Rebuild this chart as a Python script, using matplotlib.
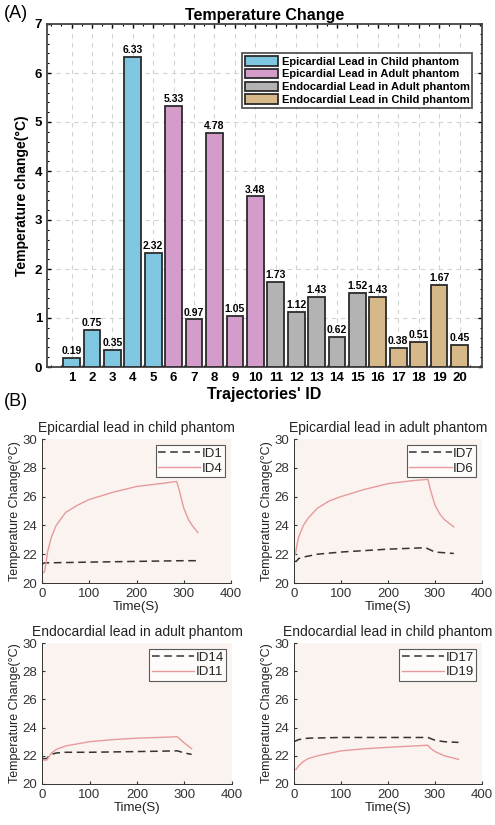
import matplotlib.pyplot as plt
import numpy as np

plt.rcParams['font.family'] = ['Liberation Sans', 'DejaVu Sans']

# ---- (A) bar data
traj_id = list(range(1, 21))
temp_rise = [0.19, 0.75, 0.35, 6.33, 2.32, 5.33, 0.97, 4.78, 1.05, 3.48,
             1.73, 1.12, 1.43, 0.62, 1.52, 1.43, 0.38, 0.51, 1.67, 0.45]
groups = ['Epicardial Lead in Child phantom', 'Epicardial Lead in Adult phantom',
          'Endocardial Lead in Adult phantom', 'Endocardial Lead in Child phantom']
group_of = [0]*5 + [1]*5 + [2]*5 + [3]*5
group_col = ['#7fc6e0', '#d49ccb', '#b3b3b3', '#d6b889']

# ---- (B) time curves
t_id4 = [0, 5, 8, 12, 20, 30, 50, 75, 100, 150, 200, 250, 285, 290, 300, 310, 320, 330]
v_id4 = [20.7, 20.75, 21.3, 22.2, 23.2, 24.0, 24.9, 25.4, 25.8, 26.3, 26.7, 26.9, 27.05, 26.5, 25.2, 24.4, 23.9, 23.5]
t_id1 = [0, 5, 10, 50, 100, 200, 300, 330]
v_id1 = [21.3, 21.4, 21.4, 21.42, 21.45, 21.5, 21.55, 21.55]

t_id6 = [0, 3, 6, 10, 20, 30, 50, 75, 100, 150, 200, 250, 285, 290, 300, 310, 320, 340]
v_id6 = [21.9, 22.0, 22.6, 23.2, 24.0, 24.5, 25.2, 25.7, 26.0, 26.5, 26.9, 27.1, 27.2, 26.5, 25.4, 24.8, 24.4, 23.9]
t_id7 = [0, 5, 10, 20, 50, 100, 200, 280, 290, 300, 340]
v_id7 = [21.5, 21.5, 21.7, 21.8, 22.0, 22.15, 22.35, 22.45, 22.3, 22.15, 22.05]

t_id11 = [0, 10, 15, 20, 30, 50, 100, 150, 200, 285, 290, 300, 315]
v_id11 = [21.7, 21.7, 21.95, 22.2, 22.45, 22.7, 23.0, 23.15, 23.25, 23.35, 23.2, 22.9, 22.5]
t_id14 = [0, 10, 15, 20, 30, 50, 100, 200, 285, 300, 315]
v_id14 = [21.8, 21.8, 22.0, 22.1, 22.2, 22.25, 22.25, 22.3, 22.35, 22.2, 22.1]

t_id19 = [0, 5, 10, 20, 30, 50, 100, 150, 200, 285, 290, 300, 320, 350]
v_id19 = [21.0, 21.05, 21.3, 21.6, 21.8, 22.0, 22.35, 22.5, 22.6, 22.75, 22.55, 22.3, 22.0, 21.75]
t_id17 = [0, 10, 30, 100, 200, 285, 300, 320, 350]
v_id17 = [23.0, 23.15, 23.25, 23.3, 23.3, 23.3, 23.1, 23.0, 22.95]

panels = [
    ('Epicardial lead in child phantom', 'ID1', t_id1, v_id1, 'ID4', t_id4, v_id4, (42, 231, 439, 583)),
    ('Epicardial lead in adult phantom', 'ID7', t_id7, v_id7, 'ID6', t_id6, v_id6, (294, 482, 439, 583)),
    ('Endocardial lead in adult phantom', 'ID14', t_id14, v_id14, 'ID11', t_id11, v_id11, (42, 232, 643, 784)),
    ('Endocardial lead in child phantom', 'ID17', t_id17, v_id17, 'ID19', t_id19, v_id19, (294, 482, 643, 784)),
]

W, H = 495, 825
def rect(l, r, t, b):
    return [l/W, 1 - b/H, (r-l)/W, (b-t)/H]

fig = plt.figure(figsize=(W/100, H/100), dpi=100)

ax = fig.add_axes(rect(47, 482, 24, 367))
cols = [group_col[g] for g in group_of]
ax.bar(traj_id, temp_rise, width=0.82, color=cols, edgecolor='#2b2b2b', linewidth=1.3, zorder=3)
for i, v in zip(traj_id, temp_rise):
    ax.text(i, v + 0.04, '%.2f' % v, ha='center', va='bottom', fontsize=7.5, fontweight='bold', zorder=4)
handles = [plt.Rectangle((0, 0), 1, 1, facecolor=c, edgecolor='#2b2b2b', linewidth=1.3) for c in group_col]
leg = ax.legend(handles, groups, loc='upper right', bbox_to_anchor=(0.978, 0.915),
                prop={'weight': 'bold', 'size': 8.0}, frameon=True, fancybox=False,
                handlelength=3.0, handleheight=0.95, handletextpad=0.3, borderpad=0.25,
                labelspacing=0.2, borderaxespad=0)
leg.get_frame().set_edgecolor('#2b2b2b')
leg.get_frame().set_linewidth(1.3)
ax.set_xlim(-0.2, 21.1)
ax.set_ylim(0, 7)
ax.set_xticks(traj_id)
ax.set_yticks(range(0, 8))
ax.set_xticks(np.arange(-0.0, 21.1, 0.5), minor=True)
ax.set_yticks(np.arange(0, 7.01, 0.2), minor=True)
ax.tick_params(direction='in', labelsize=9.5, top=True, right=True, length=3, width=1)
ax.tick_params(which='minor', direction='in', top=True, right=True, length=1.5, width=0.8)
for lb in ax.get_xticklabels() + ax.get_yticklabels():
    lb.set_fontweight('bold')
ax.grid(True, which='major', linestyle=(0, (4, 4)), color='#d2d2d2', linewidth=0.8, zorder=0)
for s in ax.spines.values():
    s.set_linewidth(1.3)
    s.set_color('#444444')
ax.set_title('Temperature Change', fontsize=11.5, fontweight='bold', pad=3)
ax.set_xlabel("Trajectories' ID", fontsize=11.5, fontweight='bold', labelpad=2)
ax.set_ylabel('Temperature change(°C)', fontsize=10, fontweight='bold', labelpad=4)

fig.text(4/W, 1 - 13/H, '(A)', fontsize=13, va='center', ha='left')
fig.text(4/W, 1 - 402/H, '(B)', fontsize=13, va='center', ha='left')

for title, dn, tdash, vdash, sn, tsol, vsol, box in panels:
    a = fig.add_axes(rect(*box))
    a.set_facecolor('#fbf3f0')
    a.plot(tdash, vdash, linestyle=(0, (5, 3)), color='#333333', linewidth=1.1, label=dn)
    a.plot(tsol, vsol, '-', color='#e79a9a', linewidth=1.0, label=sn)
    a.set_xlim(0, 400)
    a.set_ylim(20, 30)
    a.set_xticks([0, 100, 200, 300, 400])
    a.set_yticks([20, 22, 24, 26, 28, 30])
    a.spines['top'].set_visible(False)
    a.spines['right'].set_visible(False)
    for s in ('left', 'bottom'):
        a.spines[s].set_color('#333333')
        a.spines[s].set_linewidth(0.7)
    a.tick_params(direction='in', labelsize=9.5, length=2.5, colors='#333333', labelcolor='#333333')
    a.set_title(title, fontsize=10, pad=5, color='#222222')
    a.set_xlabel('Time(S)', fontsize=9.5, labelpad=1, color='#222222')
    a.set_ylabel('Temperature Change(°C)', fontsize=9.0, labelpad=1, color='#222222')
    lg = a.legend(loc='upper right', bbox_to_anchor=(0.97, 0.96), fontsize=9.5, frameon=True, fancybox=False,
                  handlelength=3.2, handletextpad=0.1, borderpad=0.2, labelspacing=0.2, borderaxespad=0,
                  alignment='right')
    lg.get_frame().set_edgecolor('#333333')
    lg.get_frame().set_linewidth(0.8)
    for t in lg.get_texts():
        t.set_color('#222222')

fig.savefig('out.png', dpi=100)
